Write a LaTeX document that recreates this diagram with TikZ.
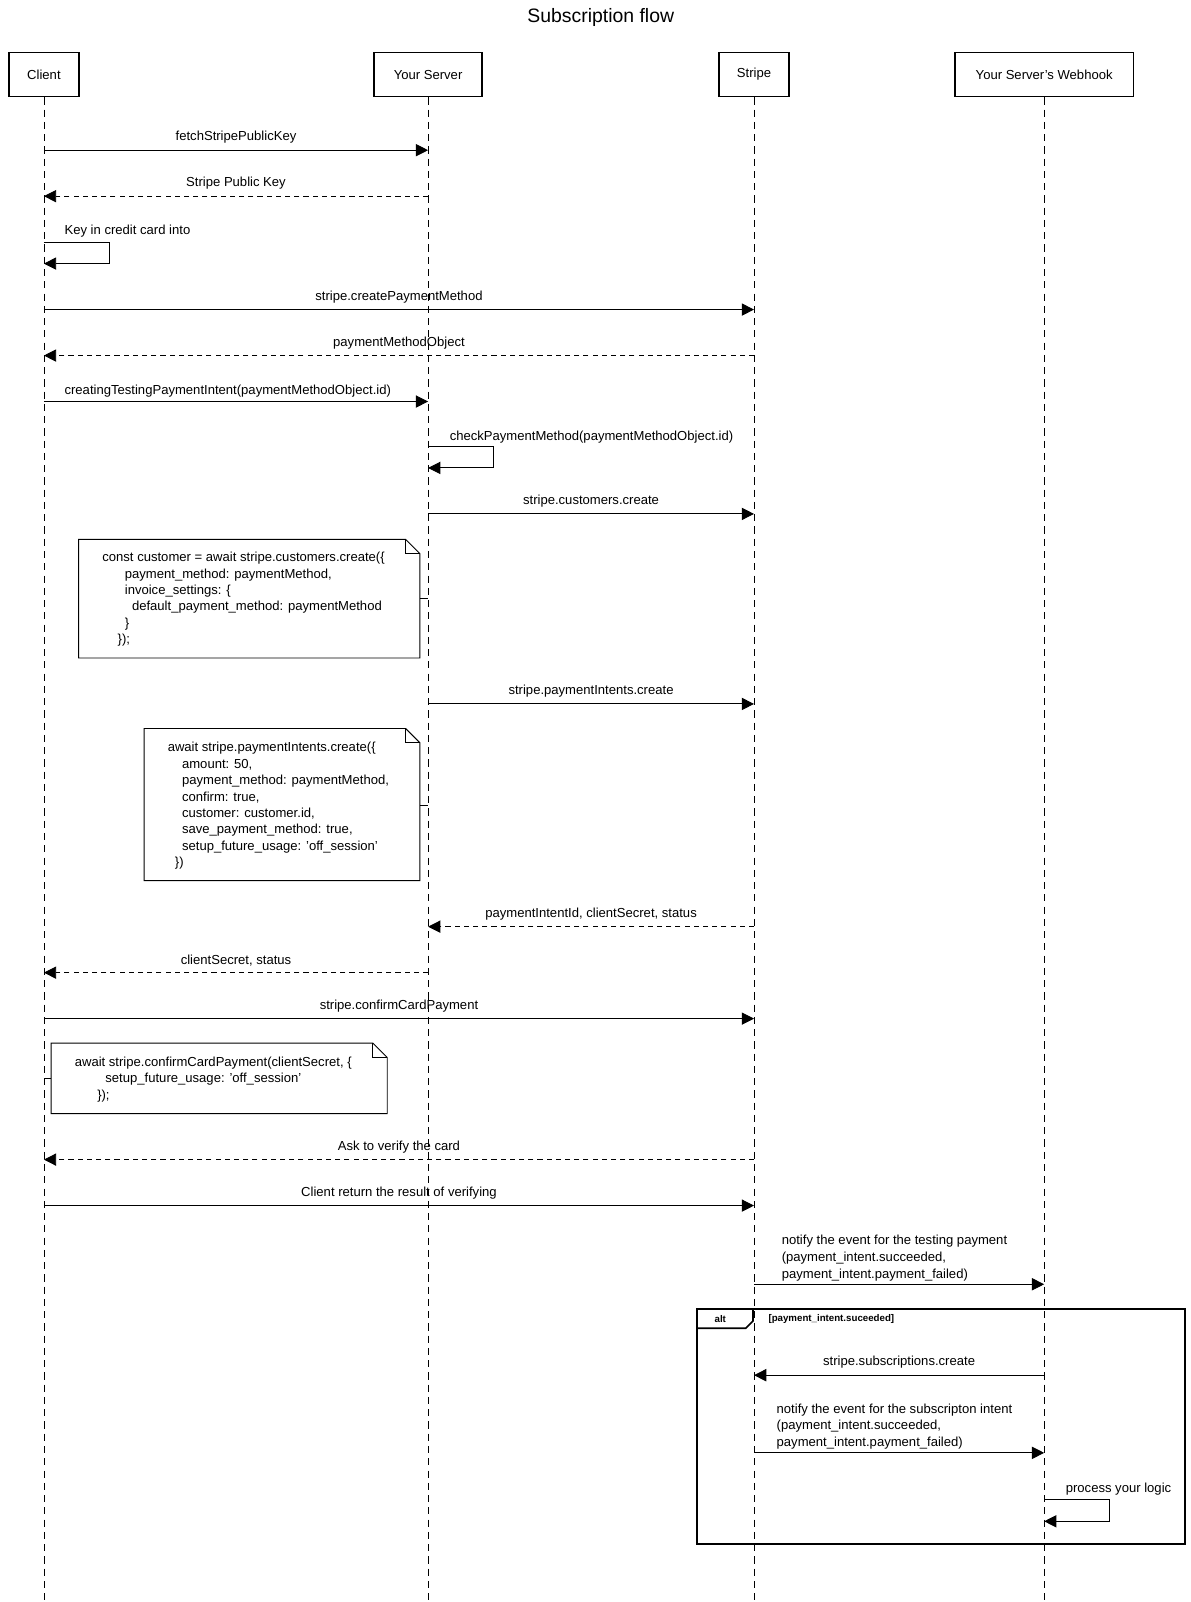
\documentclass[tikz,border=0pt]{standalone}
\usepackage{fontspec}
\setmainfont{Liberation Sans}
\usetikzlibrary{arrows.meta,shapes.misc}
\tikzset{
  actor/.style={draw,line width=1.6pt,minimum height=43pt,inner sep=0pt,font=\fontsize{12.8}{14}\selectfont},
  life/.style={dash pattern=on 7pt off 5pt,line width=.8pt},
  msg/.style={line width=.9pt,-{Triangle[length=12pt,width=12pt]}},
  ret/.style={msg,dash pattern=on 5pt off 4pt},
  lbl/.style={font=\fontsize{12.8}{14}\selectfont,inner sep=0pt},
  note/.style={line width=.9pt},
}
\newcommand{\codeline}[3]{\node[lbl,anchor=base west] at (#1,#2) {#3};}
\begin{document}
\begin{tikzpicture}[x=1pt,y=-1pt]
  \useasboundingbox (0,0) rectangle (1165,1568);
  \node[font=\fontsize{19}{20}\selectfont] (title) at (588,17) {Subscription flow};
  % actors
  \node[actor,minimum width=69pt] (client) at (43,73) {Client};
  \node[actor,minimum width=106pt] (server) at (419,73) {Your Server};
  \node[actor,minimum width=69pt] (stripe) at (738,73) {Stripe};
  \node[actor,minimum width=175pt] (hook) at (1022,73) {Your Server's Webhook};
  \foreach \a/\x in {client/43,server/419,stripe/738,hook/1022}{
    \coordinate (\a-end) at (\x,1568);
    \draw[life] (\a.south) -- (\a-end);
  }
  % messages
  \draw[msg] (43,147) -- node[lbl,above=6pt] {fetchStripePublicKey} (419,147);
  \draw[ret] (419,192) -- node[lbl,above=6pt] {Stripe Public Key} (43,192);
  \draw[msg] (43,237) -- (107,237) -- (107,258) -- (43,258);
  \node[lbl,anchor=base west] at (63,230) {Key in credit card into};
  \draw[msg] (43,303) -- node[lbl,above=6pt] {stripe.createPaymentMethod} (738,303);
  \draw[ret] (738,348) -- node[lbl,above=6pt] {paymentMethodObject} (43,348);
  \draw[msg] (43,393) -- (419,393);
  \node[lbl,anchor=base west] at (63,386) {creatingTestingPaymentIntent(paymentMethodObject.id)};
  \draw[msg] (419,437) -- (483,437) -- (483,458) -- (419,458);
  \node[lbl,anchor=base west] at (440,431) {checkPaymentMethod(paymentMethodObject.id)};
  \draw[msg] (419,503) -- node[lbl,above=6pt] {stripe.customers.create} (738,503);
  % note 1
  \draw[note] (77,528) -- (397,528) -- (411,542) -- (411,644) -- (77,644) -- cycle;
  \draw[note] (397,528) -- (397,542) -- (411,542);
  \draw[note] (411,586) -- (419,586);
  \codeline{100}{550}{const customer = await stripe.customers.create(\{}
  \codeline{122}{566}{payment\_method: paymentMethod,}
  \codeline{122}{582}{invoice\_settings: \{}
  \codeline{129}{598}{default\_payment\_method: paymentMethod}
  \codeline{122}{614}{\}}
  \codeline{115}{630}{\});}
  \draw[msg] (419,689) -- node[lbl,above=6pt] {stripe.paymentIntents.create} (738,689);
  % note 2
  \draw[note] (141,713) -- (397,713) -- (411,727) -- (411,862) -- (141,862) -- cycle;
  \draw[note] (397,713) -- (397,727) -- (411,727);
  \draw[note] (411,788) -- (419,788);
  \codeline{164}{736}{await stripe.paymentIntents.create(\{}
  \codeline{178}{752}{amount: 50,}
  \codeline{178}{768}{payment\_method: paymentMethod,}
  \codeline{178}{784}{confirm: true,}
  \codeline{178}{800}{customer: customer.id,}
  \codeline{178}{816}{save\_payment\_method: true,}
  \codeline{178}{832}{setup\_future\_usage: 'off\_session'}
  \codeline{171}{848}{\})}
  \draw[ret] (738,907) -- node[lbl,above=6pt] {paymentIntentId, clientSecret, status} (419,907);
  \draw[ret] (419,952) -- node[lbl,above=6pt] {clientSecret, status} (43,952);
  \draw[msg] (43,997) -- node[lbl,above=6pt] {stripe.confirmCardPayment} (738,997);
  % note 3
  \draw[note] (50,1021) -- (365,1021) -- (379,1035) -- (379,1090) -- (50,1090) -- cycle;
  \draw[note] (365,1021) -- (365,1035) -- (379,1035);
  \draw[note] (43,1056) -- (50,1056);
  \codeline{73}{1044}{await stripe.confirmCardPayment(clientSecret, \{}
  \codeline{103}{1060}{setup\_future\_usage: 'off\_session'}
  \codeline{95}{1076}{\});}
  \draw[ret] (738,1135) -- node[lbl,above=6pt] {Ask to verify the card} (43,1135);
  \draw[msg] (43,1180) -- node[lbl,above=6pt] {Client return the result of verifying} (738,1180);
  \draw[msg] (738,1257) -- (1022,1257);
  \node[lbl,anchor=base west,align=left,font=\fontsize{12.8}{16.5}\selectfont] at (765,1251)
    {notify the event for the testing payment\\(payment\_intent.succeeded,\\payment\_intent.payment\_failed)};
  % alt frame
  \draw[line width=1.6pt] (682,1281) rectangle (1160,1511);
  \draw[line width=1.6pt] (682,1300) -- (730,1300) -- (737,1293) -- (737,1281);
  \node[lbl,font=\bfseries\fontsize{9.5}{10}\selectfont] at (705,1291) {alt};
  \node[lbl,anchor=west,font=\bfseries\fontsize{9.5}{10}\selectfont] at (752,1291) {[payment\_intent.suceeded]};
  \draw[msg] (1022,1346) -- node[lbl,above=6pt] {stripe.subscriptions.create} (738,1346);
  \draw[msg] (738,1422) -- (1022,1422);
  \node[lbl,anchor=base west,align=left,font=\fontsize{12.8}{16.5}\selectfont] at (760,1416)
    {notify the event for the subscripton intent\\(payment\_intent.succeeded,\\payment\_intent.payment\_failed)};
  \draw[msg] (1022,1468) -- (1086,1468) -- (1086,1489) -- (1022,1489);
  \node[lbl,anchor=base west] at (1043,1461) {process your logic};
\end{tikzpicture}
\end{document}
